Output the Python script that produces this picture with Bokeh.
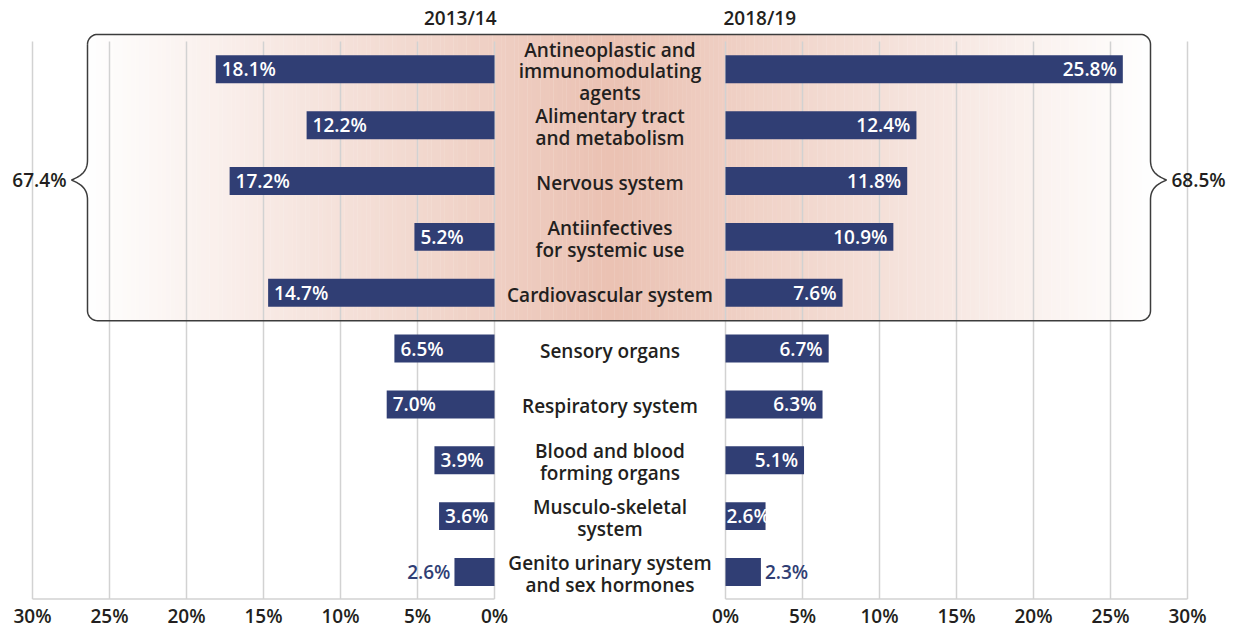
import numpy as np
from bokeh.plotting import figure
from bokeh.models import Range1d, FixedTicker
from bokeh.core.properties import value
from bokeh.embed import file_html
from bokeh.resources import INLINE

# ---------------- data ----------------
categories = [
    "Antineoplastic and\nimmunomodulating\nagents",
    "Alimentary tract\nand metabolism",
    "Nervous system",
    "Antiinfectives\nfor systemic use",
    "Cardiovascular system",
    "Sensory organs",
    "Respiratory system",
    "Blood and blood\nforming organs",
    "Musculo-skeletal\nsystem",
    "Genito urinary system\nand sex hormones",
]
share_2013 = [18.1, 12.2, 17.2, 5.2, 14.7, 6.5, 7.0, 3.9, 3.6, 2.6]
share_2018 = [25.8, 12.4, 11.8, 10.9, 7.6, 6.7, 6.3, 5.1, 2.6, 2.3]
periods = ["2013/14", "2018/19"]
top5_totals = [67.4, 68.5]
tick_values = [0, 5, 10, 15, 20, 25, 30]
tick_labels = ["0%", "5%", "10%", "15%", "20%", "25%", "30%"]

# ---------------- style / geometry ----------------
FONT = "Open Sans Medium, Open Sans SemiBold, Open Sans Semibold, Open Sans"
FS = "19px"
DARK = "#231F20"
NAVY = "#303E74"
GRID = "#D2D2D2"
GAP = 7.5            # half width of the centre label column, in % units
PXX = 15.4           # px per % unit (x)
PXY = 56.0           # px per row (y)
X0_IMG, Y0_IMG = 32.0, 69.0   # page px of x=-37.5 and of row 0

def dy(px):
    return px / PXY

def to_data(X, Y):
    return (np.asarray(X) - X0_IMG) / PXX - 37.5, (np.asarray(Y) - Y0_IMG) / PXY

n = len(categories)
rows = list(range(n))

W, H = 1241, 631
frame_bottom_img = 602.6
x_lo, _ = to_data(0.0, 0)
x_hi, _ = to_data(float(W), 0)
_, y_top = to_data(0, 0.0)
_, y_bot = to_data(0, frame_bottom_img)

p = figure(width=W, height=H, output_backend="svg", toolbar_location=None,
           x_range=Range1d(x_lo, x_hi), y_range=Range1d(y_bot, y_top),
           min_border_left=0, min_border_right=0, min_border_top=0, min_border_bottom=0,
           y_axis_location=None)
p.outline_line_color = None
p.xgrid.grid_line_color = None
p.ygrid.grid_line_color = None
p.background_fill_color = "white"
p.border_fill_color = "white"

# axis ticks: left side mirrored, right side normal
ticks = [-GAP - t for t in tick_values] + [GAP + t for t in tick_values]
overrides = {}
for t, lab in zip(tick_values, tick_labels):
    overrides[-GAP - t] = lab
    overrides[GAP + t] = lab
p.xaxis.ticker = FixedTicker(ticks=ticks)
p.xaxis.major_label_overrides = overrides
p.xaxis.axis_line_color = None
p.xaxis.major_tick_line_color = None
p.xaxis.minor_tick_line_color = None
p.xaxis.major_tick_out = 0
p.xaxis.major_label_standoff = 1
p.xaxis.major_label_text_font = FONT
p.xaxis.major_label_text_font_size = FS
p.xaxis.major_label_text_color = DARK

# ---------------- highlighted block (gradient) ----------------
top5 = 5
T = -0.5 - dy(7)
B = (top5 - 1) + 0.5
L = to_data(87, 0)[0]
R = to_data(1150, 0)[0]
centre = 0.0
c0 = np.array([235, 194, 179])
c1 = np.array([255, 255, 255])
nstrip = 120
edges_l = np.linspace(L, centre, nstrip + 1)
edges_r = np.linspace(centre, R, nstrip + 1)
lefts, rights, cols = [], [], []
for i in range(nstrip):
    f = 1 - (i + 0.5) / nstrip
    c = (c0 + (c1 - c0) * f).astype(int)
    lefts.append(edges_l[i]); rights.append(edges_l[i + 1] + 0.02)
    cols.append("#%02x%02x%02x" % tuple(c))
for i in range(nstrip):
    f = (i + 0.5) / nstrip
    c = (c0 + (c1 - c0) * f).astype(int)
    lefts.append(edges_r[i]); rights.append(edges_r[i + 1] + 0.02)
    cols.append("#%02x%02x%02x" % tuple(c))
p.quad(left=lefts, right=rights, top=T, bottom=B, fill_color=cols, line_color=None)

# ---------------- grid lines & baselines ----------------
grid_top = -0.5
grid_bot = n - 1 + dy(27)
gx = [-GAP - t for t in tick_values] + [GAP + t for t in tick_values]
p.segment(x0=gx, x1=gx, y0=grid_top, y1=grid_bot, line_color=GRID, line_width=1.5)
p.segment(x0=[-GAP - max(tick_values), GAP], x1=[-GAP, GAP + max(tick_values)],
          y0=grid_bot, y1=grid_bot, line_color=GRID, line_width=1.5)

# ---------------- bars ----------------
p.hbar(y=rows, left=[-GAP - v for v in share_2013], right=-GAP, height=0.5,
       fill_color=NAVY, line_color=None)
p.hbar(y=rows, left=GAP, right=[GAP + v for v in share_2018], height=0.5,
       fill_color=NAVY, line_color=None)

# ---------------- value labels ----------------
def lab(v):
    return f"{v:.1f}%"

def add_labels(xs, ys, ts, align, offset, color):
    if xs:
        p.text(x=xs, y=ys, text=ts, text_align=align, text_baseline="middle", x_offset=offset,
               text_font=value(FONT), text_font_size=FS, text_color=color)

# left side: inside unless too short
in_x, in_y, in_t, out_x, out_y, out_t = [], [], [], [], [], []
for i, v in enumerate(share_2013):
    if v >= 3:
        in_x.append(-GAP - v); in_y.append(i); in_t.append(lab(v))
    else:
        out_x.append(-GAP - v); out_y.append(i); out_t.append(lab(v))
add_labels(in_x, in_y, in_t, "left", 6, "white")
add_labels(out_x, out_y, out_t, "right", -4, NAVY)

# right side
in_x, in_y, in_t, nar_x, nar_y, nar_t, out_x, out_y, out_t = [], [], [], [], [], [], [], [], []
for i, v in enumerate(share_2018):
    if v >= 3:
        in_x.append(GAP + v); in_y.append(i); in_t.append(lab(v))
    elif v >= 2.5:
        nar_x.append(GAP); nar_y.append(i); nar_t.append(lab(v))
    else:
        out_x.append(GAP + v); out_y.append(i); out_t.append(lab(v))
add_labels(in_x, in_y, in_t, "right", -6, "white")
add_labels(nar_x, nar_y, nar_t, "left", 1, "white")
add_labels(out_x, out_y, out_t, "left", 4, NAVY)

# ---------------- category labels ----------------
p.text(x=0, y=rows, text=categories, text_align="center", text_baseline="middle",
       y_offset=2, text_line_height=0.83,
       text_font=value(FONT), text_font_size=FS, text_color=DARK)

# ---------------- headers ----------------
hy = to_data(0, 18)[1]
p.text(x=[-GAP], y=[hy], text=[periods[0]], text_align="right", text_baseline="middle",
       x_offset=2, text_font=value(FONT), text_font_size=FS, text_color=DARK)
p.text(x=[GAP], y=[hy], text=[periods[1]], text_align="left", text_baseline="middle",
       x_offset=-2, text_font=value(FONT), text_font_size=FS, text_color=DARK)

# ---------------- bracket ----------------
def cubic(p0, p1, p2, p3, k=24):
    t = np.linspace(0, 1, k)[:, None]
    p0, p1, p2, p3 = map(np.array, (p0, p1, p2, p3))
    return ((1 - t) ** 3) * p0 + 3 * ((1 - t) ** 2) * t * p1 + 3 * (1 - t) * t ** 2 * p2 + t ** 3 * p3

def arc(cx, cy, r, a0, a1, k=12):
    a = np.linspace(a0, a1, k)
    return np.column_stack([cx + r * np.cos(a), cy + r * np.sin(a)])

Li, Ri, Ti, Bi = 87.0, 1150.0, 34.0, 321.0
Yc = 69 + 56 * 2 - 1
rr, h, d = 10.0, 20.0, 16.0
segs = [
    arc(Li + rr, Ti + rr, rr, np.pi, 1.5 * np.pi),
    arc(Ri - rr, Ti + rr, rr, 1.5 * np.pi, 2 * np.pi),
    cubic((Ri, Yc - h), (Ri, Yc - h + 12), (Ri + 7, Yc - 4), (Ri + d, Yc)),
    cubic((Ri + d, Yc), (Ri + 7, Yc + 4), (Ri, Yc + h - 12), (Ri, Yc + h)),
    arc(Ri - rr, Bi - rr, rr, 0, 0.5 * np.pi),
    arc(Li + rr, Bi - rr, rr, 0.5 * np.pi, np.pi),
    cubic((Li, Yc + h), (Li, Yc + h - 12), (Li - 7, Yc + 4), (Li - d, Yc)),
    cubic((Li - d, Yc), (Li - 7, Yc - 4), (Li, Yc - h + 12), (Li, Yc - h)),
    np.array([[Li, Ti + rr]]),
]
path = np.vstack(segs)
bx, by = to_data(path[:, 0], path[:, 1])
p.line(x=bx, y=by, line_color="#3C3C3C", line_width=1.5)

# totals of the highlighted block
tx_l = to_data(Li - d - 5, 0)[0]
tx_r = to_data(Ri + d + 5, 0)[0]
ty = to_data(0, Yc)[1]
p.text(x=[tx_l], y=[ty], text=[f"{top5_totals[0]}%"], text_align="right", text_baseline="middle",
       text_font=value(FONT), text_font_size=FS, text_color=DARK)
p.text(x=[tx_r], y=[ty], text=[f"{top5_totals[1]}%"], text_align="left", text_baseline="middle",
       text_font=value(FONT), text_font_size=FS, text_color=DARK)

open("out.html", "w").write(file_html(p, INLINE))
